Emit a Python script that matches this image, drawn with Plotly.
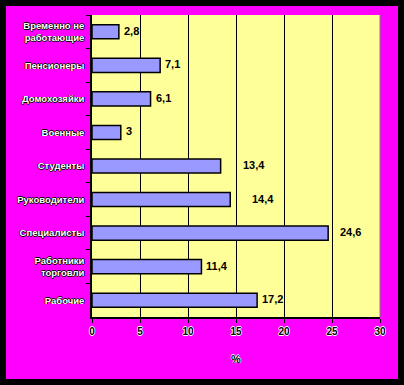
import plotly.graph_objects as go

categories = ["Временно не<br>работающие", "Пенсионеры", "Домохозяйки", "Военные",
              "Студенты", "Руководители", "Специалисты", "Работники<br>торговли", "Рабочие"]
values = [2.8, 7.1, 6.1, 3, 13.4, 14.4, 24.6, 11.4, 17.2]
value_labels = ["2,8", "7,1", "6,1", "3", "13,4", "14,4", "24,6", "11,4", "17,2"]
x_ticks = [0, 5, 10, 15, 20, 25, 30]

# style: per-label horizontal offsets (px) as in the original
label_gaps = [3, 3, 3, 3, 20, 20, 10, 3, 3]

W, H = 404, 385
L, R, T, B = 92, 24, 15, 68
pw, ph = W - L - R, H - T - B

outline_dark = "0.7px 0 0 #000, -0.7px 0 0 #000, 0 0.7px 0 #000, 0 -0.7px 0 #000"
outline_light = "0.7px 0 0 #fff, -0.7px 0 0 #fff, 0 0.7px 0 #fff, 0 -0.7px 0 #fff"

fig = go.Figure(go.Bar(
    x=values, y=categories, orientation="h",
    marker=dict(color="#9999FF", line=dict(color="#000", width=1.5)),
    width=0.42, hoverinfo="skip",
))

for c, v, t, g in zip(categories, values, value_labels, label_gaps):
    fig.add_annotation(x=v, y=c, text="<b>" + t + "</b>", showarrow=False,
                       xanchor="left", xshift=g, yshift=1,
                       font=dict(family="Arial", size=11, color="#000"))

def px2fx(px):
    return (px - L) / pw

def py2fy(py):
    return (H - B - py) / ph

# black outer frame
fig.add_shape(type="rect", xref="paper", yref="paper",
              x0=px2fx(3), x1=px2fx(W - 3), y0=py2fy(H - 3), y1=py2fy(3),
              line=dict(color="#000", width=6), fillcolor="rgba(0,0,0,0)", layer="above")
# gray right plot border
fig.add_shape(type="line", xref="paper", yref="paper", x0=1, x1=1, y0=0, y1=1,
              line=dict(color="#808080", width=1))

fig.update_layout(
    width=W, height=H, margin=dict(l=L, r=R, t=T, b=B),
    paper_bgcolor="#FF00FF", plot_bgcolor="#FFFF99",
    showlegend=False,
    xaxis=dict(range=[0, 30], tickvals=x_ticks, ticktext=[str(v) for v in x_ticks],
               showgrid=True, gridcolor="#000", gridwidth=1,
               showline=True, linecolor="#000", linewidth=2,
               ticks="outside", ticklen=4, tickcolor="#000",
               tickfont=dict(family="Arial", size=10, color="#000", weight="bold", shadow=outline_light),
               title=dict(text="%", standoff=19,
                          font=dict(family="Arial", size=11, color="#000", weight="bold",
                                    shadow=outline_light)),
               zeroline=False, fixedrange=True),
    yaxis=dict(autorange="reversed", showgrid=False,
               showline=True, linecolor="#000", linewidth=1.5,
               ticks="outside", ticklen=4, tickcolor="#000", tickson="boundaries",
               ticklabelstandoff=4,
               tickfont=dict(family="Arial", size=9.5, color="#fff", weight="bold",
                             shadow=outline_dark),
               fixedrange=True),
)

fig.write_html("out.html", config={"displayModeBar": False},
               post_script="document.body.style.margin='0';document.body.style.overflow='hidden';")
